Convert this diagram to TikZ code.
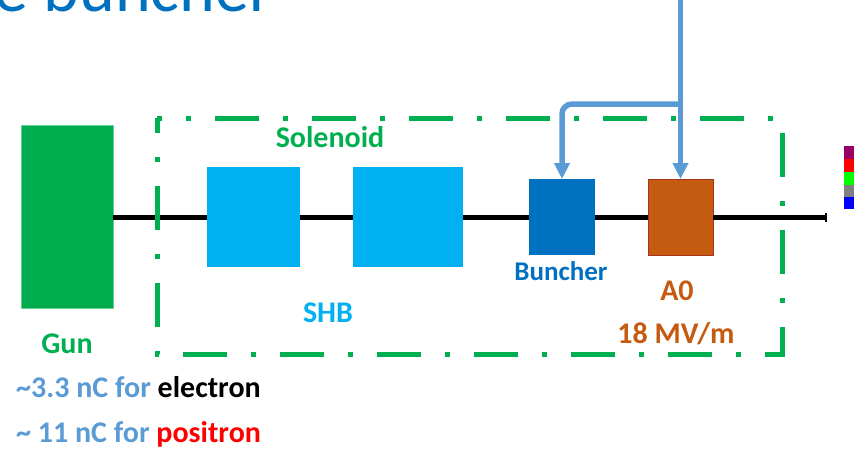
\documentclass[tikz,border=0pt]{standalone}
\usepackage{fontspec}
\setmainfont{Carlito}
\usetikzlibrary{arrows.meta,positioning}
\definecolor{GunGreen}{HTML}{00AC4E}
\definecolor{SolGreen}{HTML}{00B050}
\definecolor{ShbCyan}{HTML}{00B0F0}
\definecolor{BunchBlue}{HTML}{0070C0}
\definecolor{CavRust}{HTML}{C55A11}
\definecolor{CavEdge}{HTML}{A8321E}
\definecolor{FeedBlue}{HTML}{5B9BD5}

\begin{document}
\begin{tikzpicture}[
    x=1pt, y=-1pt,
    elem/.style={draw=none, inner sep=0pt, outer sep=0pt},
    lbl/.style={font=\bfseries\fontsize{30}{34}\selectfont, inner sep=0pt, anchor=base},
    beam/.style={line width=5pt, black},
    feed/.style={line width=5.5pt, FeedBlue, -{Triangle[length=16pt,width=15pt]}},
    solbox/.style={line width=5pt, SolGreen, dash pattern=on 44pt off 24pt on 5pt off 24pt, dash phase=39pt}
  ]
  \clip (0,0) rectangle (854,448);

  % slide heading, mostly cut off at the top
  \node[inner sep=0pt, anchor=base east, text=BunchBlue, font=\fontsize{68}{72}\selectfont] (heading) at (273,11) {Pre buncher};

  % beamline elements
  \node[elem, fill=GunGreen, draw=GunGreen!60!white, line width=0.6pt, minimum width=92pt, minimum height=183pt] (gun) at (67,217) {};
  \node[elem, fill=ShbCyan, minimum width=93pt, minimum height=100pt] (shb1) at (253.5,217) {};
  \node[elem, fill=ShbCyan, minimum width=110pt, minimum height=100pt] (shb2) at (408,217) {};
  \node[elem, fill=BunchBlue, minimum width=66pt, minimum height=76pt] (buncher) at (562,217) {};
  \node[elem, fill=CavRust, draw=CavEdge, line width=1pt, minimum width=65pt, minimum height=76pt] (a0) at (680.5,217) {};
  \coordinate (beamend) at (827,217);

  % beam pipe
  \draw[beam] (gun) -- (shb1);
  \draw[beam] (shb1) -- (shb2);
  \draw[beam] (shb2) -- (buncher);
  \draw[beam] (buncher) -- (a0);
  \draw[beam, -{Bar[width=9pt,line width=2.5pt]}] (a0) -- (beamend);

  % solenoid region
  \draw[solbox] (157,118) -- (782,118) -- (782,354) -- (157,354) -- cycle;

  % rf feed
  \coordinate (feedtop) at (680.5,-5);
  \coordinate (split) at (680.5,104);
  \draw[feed] (feedtop) -- (a0.north);
  \draw[feed, rounded corners=10pt] (split) -| (buncher.north);

  % labels
  \node[lbl, text=SolGreen] (sollbl) at (330,147) {Solenoid};
  \node[lbl, text=SolGreen] (gunlbl) at (67,353) {Gun};
  \node[lbl, text=ShbCyan] (shblbl) at (328,322) {SHB};
  \node[lbl, text=BunchBlue, font=\bfseries\fontsize{27}{30}\selectfont] (bunlbl) at (561,280) {Buncher};
  \node[lbl, text=CavRust] (a0lbl) at (677,300) {A0};
  \node[lbl, text=CavRust] (gradlbl) at (676,343) {18 MV/m};

  % bunch charge
  \node[lbl, anchor=base west, text=FeedBlue] (qe) at (16,397) {\textasciitilde3.3 nC for \textcolor{black}{electron}};
  \node[lbl, anchor=base west, text=FeedBlue] (qp) at (16,442) {\textasciitilde\ 11 nC for \textcolor{red}{positron}};

  % colour key at the right edge
  \fill[violet!80!red] (844,146) rectangle (860,159);
  \fill[red] (844,159) rectangle (860,172);
  \fill[green] (844,172) rectangle (860,185);
  \fill[gray] (844,185) rectangle (860,197);
  \fill[blue] (844,197) rectangle (860,209);
\end{tikzpicture}
\end{document}
